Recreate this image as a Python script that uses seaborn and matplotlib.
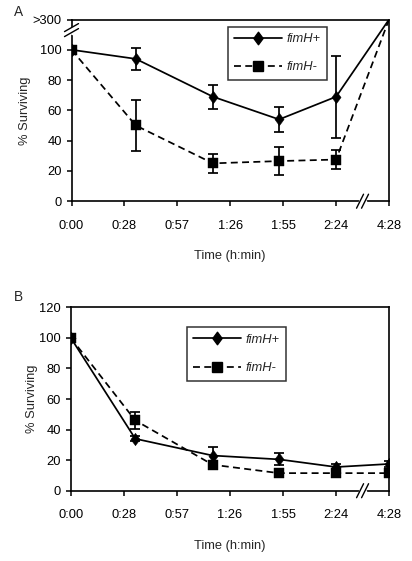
import numpy as np
import pandas as pd
import matplotlib
matplotlib.use("Agg")
import matplotlib.pyplot as plt
from matplotlib.lines import Line2D
from matplotlib.path import Path
import seaborn as sns

# ---------------- data ----------------
strains = ["fimH+", "fimH-"]
times_min = [0, 35, 77, 113, 144, 268]          # sampling times (minutes)
tick_minutes = [0, 28.8, 57.6, 86.4, 115.2, 144.0, 268]
tick_labels = ["0:00", "0:28", "0:57", "1:26", "1:55", "2:24", "4:28"]

a_pos = [100, 94, 69, 54, 69, 300]      # last value ">300"
a_pos_err = [0, 7.5, 8, 8, 27, 0]
a_neg = [100, 50, 25, 26.5, 27.5, 300]
a_neg_err = [0, 17, 6.5, 9, 6.5, 0]

b_pos = [100, 34, 23, 20.5, 15.5, 17.5]
b_pos_err = [0, 1.5, 5.5, 4, 2, 2]
b_neg = [100, 46, 17, 11.5, 11.5, 11.5]
b_neg_err = [0, 5.5, 1.5, 1.5, 1.5, 1.5]

a_yticks = [0, 20, 40, 60, 80, 100, 300]
a_ylabels = ["0", "20", "40", "60", "80", "100", ">300"]
b_yticks = [0, 20, 40, 60, 80, 100, 120]

# ---------------- style ----------------
sns.set_theme(style="white")
plt.rcParams["font.family"] = ["Liberation Sans", "DejaVu Sans"]
FS = 9.3
plt.rcParams["font.size"] = FS

W, H = 412, 561
fig = plt.figure(figsize=(W / 100, H / 100), dpi=100)

diamond = Path([(0, 1), (0.74, 0), (0, -1), (-0.74, 0), (0, 1)],
               [Path.MOVETO, Path.LINETO, Path.LINETO, Path.LINETO, Path.CLOSEPOLY])
markers = {"fimH+": diamond, "fimH-": "s"}
msize = {"fimH+": 9.0, "fimH-": 7.0}
dashes = {"fimH+": "", "fimH-": (4, 2.5)}
LW = 1.25


def xdisp(t):
    return np.interp(t, tick_minutes, np.arange(len(tick_minutes)))


def px(ax, x, y):
    return ax.transData.transform((x, y))


def add_break(ax, x, y, horizontal_axis):
    """Draw a '//' break mark across a spine at data point (x, y)."""
    cx, cy = px(ax, x, y)
    gap = 5.0
    if horizontal_axis:
        fig.add_artist(Line2D([(cx - gap / 2) / W, (cx + gap / 2) / W], [cy / H, cy / H],
                              color="white", lw=2.5, zorder=10))
        for ox in (-gap / 2, gap / 2):
            fig.add_artist(Line2D([(cx + ox - 3.5) / W, (cx + ox + 3.5) / W],
                                  [(cy - 7) / H, (cy + 7) / H],
                                  color="black", lw=1.0, zorder=11))
    else:
        fig.add_artist(Line2D([cx / W, cx / W], [(cy - gap / 2) / H, (cy + gap / 2) / H],
                              color="white", lw=2.5, zorder=10))
        for oy in (-gap / 2, gap / 2):
            fig.add_artist(Line2D([(cx - 7) / W, (cx + 7) / W],
                                  [(cy + oy - 4) / H, (cy + oy + 4) / H],
                                  color="black", lw=1.0, zorder=11))


def panel(rect, pos, pos_err, neg, neg_err, ymap, yticks, ylabels, leg_anchor, letter, letter_xy):
    ax = fig.add_axes(rect)
    rows = []
    for s, vals, errs in (("fimH+", pos, pos_err), ("fimH-", neg, neg_err)):
        for t, v, e in zip(times_min, vals, errs):
            rows.append(dict(strain=s, t=t, v=v, e=e,
                             xd=float(xdisp(t)), yd=float(ymap(v))))
    df = pd.DataFrame(rows)

    sns.lineplot(data=df, x="xd", y="yd", style="strain", style_order=strains,
                 dashes=dashes, color="black", lw=LW, sort=False,
                 legend=False, ax=ax, estimator=None, zorder=3)

    shown = df[df["v"] <= 100]
    for s in strains:
        sub = shown[shown["strain"] == s]
        eb = sub[sub["e"] > 0]
        ax.errorbar(eb["xd"], eb["yd"], yerr=eb["e"], fmt="none", ecolor="black",
                    elinewidth=LW, capsize=3.3, capthick=LW, zorder=2)
        sns.scatterplot(data=sub, x="xd", y="yd", marker=markers[s], s=msize[s] ** 2,
                        color="black", edgecolor="black", linewidth=0.3,
                        ax=ax, legend=False, zorder=4)

    ax.set_xlim(0, len(tick_labels) - 1)
    ax.set_xticks(np.arange(len(tick_labels)))
    ax.set_xticklabels(tick_labels)
    ax.set_ylim(ymap(yticks[0]), ymap(yticks[-1]))
    ax.set_yticks([ymap(v) for v in yticks])
    ax.set_yticklabels(ylabels)
    ax.tick_params(axis="both", which="both", direction="out", length=3.5, width=1.1,
                   color="black", labelsize=FS, labelcolor="black")
    ax.tick_params(axis="x", pad=10, bottom=True)
    ax.tick_params(axis="y", pad=3.5, left=True)
    for sp in ax.spines.values():
        sp.set_visible(True)
        sp.set_color("black")
        sp.set_linewidth(1.2)
    ax.set_xlabel("Time (h:min)", fontsize=FS, labelpad=13)
    ax.set_ylabel("% Surviving", fontsize=FS, labelpad=1)
    ax.grid(False)

    handles = [
        Line2D([], [], color="black", lw=LW, marker=diamond, ms=9.0, label="fimH+"),
        Line2D([], [], color="black", lw=LW, ls=(0, (4, 2.5)), marker="s", ms=7.0, label="fimH-"),
    ]
    leg = ax.legend(handles=handles, loc="upper left", bbox_to_anchor=leg_anchor,
                    borderaxespad=0, frameon=True, fancybox=False, edgecolor="black",
                    handlelength=3.7, handletextpad=0.3, labelspacing=1.25,
                    borderpad=0.5, prop={"style": "italic", "size": FS})
    leg.get_frame().set_linewidth(1.1)
    leg.set_zorder(6)
    fig.text(letter_xy[0] / W, 1 - letter_xy[1] / H, letter, fontsize=FS + 0.5,
             ha="center", va="center")
    return ax


ymap_a = lambda v: float(np.interp(v, [0, 100, 300], [0, 100, 120]))
ymap_b = lambda v: float(v)

axA = panel([71.5 / W, 1 - 201.2 / H, 317.5 / W, 181.7 / H],
            a_pos, a_pos_err, a_neg, a_neg_err, ymap_a, a_yticks, a_ylabels,
            (0.493, 0.96), "A", (19, 12))
axB = panel([70.8 / W, 1 - 490.7 / H, 318.3 / W, 183.4 / H],
            b_pos, b_pos_err, b_neg, b_neg_err, ymap_b, b_yticks,
            [str(v) for v in b_yticks], (0.365, 0.89), "B", (18, 297))

fig.canvas.draw()
add_break(axA, 5.5, 0, True)
add_break(axB, 5.5, 0, True)
add_break(axA, 0, 113, False)

fig.savefig("out.png", dpi=100)
